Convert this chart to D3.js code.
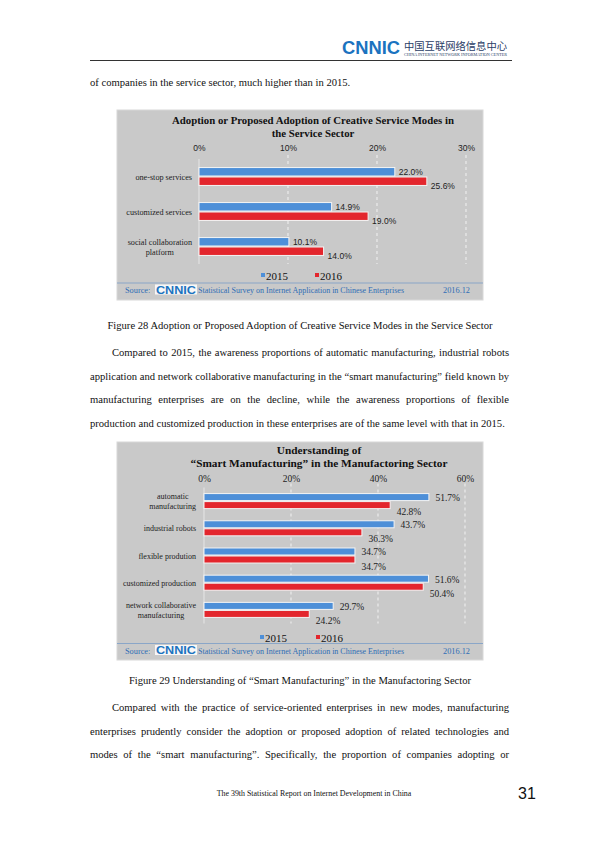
<!DOCTYPE html>
<html><head><meta charset="utf-8">
<script src="https://cdn.jsdelivr.net/npm/d3@7/dist/d3.min.js"></script>
<style>body{margin:0;background:#fff;}svg{display:block;}</style>
</head><body>
<svg id="page" width="600" height="848"></svg>
<script>
// ---------- DATA ----------
const seriesNames = ["2015", "2016"];
const chart1Title = ["Adoption or Proposed Adoption of Creative Service Modes in", "the Service Sector"];
const chart1Categories = ["one-stop services", "customized services", "social collaboration\nplatform"];
const chart1Values2015 = [22.0, 14.9, 10.1];
const chart1Values2016 = [25.6, 19.0, 14.0];
const chart1Ticks = [0, 10, 20, 30];

const chart2Title = ["Understanding of", "“Smart Manufacturing” in the Manufactoring Sector"];
const chart2Categories = ["automatic\nmanufacturing", "industrial robots", "flexible prodution", "customized production", "network collaborative\nmanufacturing"];
const chart2Values2015 = [51.7, 43.7, 34.7, 51.6, 29.7];
const chart2Values2016 = [42.8, 36.3, 34.7, 50.4, 24.2];
const chart2Ticks = [0, 20, 40, 60];

const sourceText = ["Source:", "Statistical Survey on Internet Application in Chinese Enterprises", "2016.12"];

const introLine = "of companies in the service sector, much higher than in 2015.";
const caption28 = "Figure 28 Adoption or Proposed Adoption of Creative Service Modes in the Service Sector";
const para1 = [
  "Compared to 2015, the awareness proportions of automatic manufacturing, industrial robots",
  "application and network collaborative manufacturing in the “smart manufacturing” field known by",
  "manufacturing enterprises are on the decline, while the awareness proportions of flexible",
  "production and customized production in these enterprises are of the same level with that in 2015."
];
const caption29 = "Figure 29 Understanding of “Smart Manufacturing” in the Manufactoring Sector";
const para2 = [
  "Compared with the practice of service-oriented enterprises in new modes, manufacturing",
  "enterprises prudently consider the adoption or proposed adoption of related technologies and",
  "modes of the “smart manufacturing”. Specifically, the proportion of companies adopting or"
];
const footerText = "The 39th Statistical Report on Internet Development in China";
const pageNumber = "31";

// ---------- STYLE ----------
const SERIF = "'Liberation Serif','Times New Roman',serif";
const SANS = "'Liberation Sans',Arial,sans-serif";
const BLUE = "#4d8fd8", RED = "#e3262d", BG = "#c9c9c9", SRC = "#2f6db5";
const BODY = 10.6;

const svg = d3.select("#page");

// ---------- HEADER ----------
svg.append("text").attr("x", 342).attr("y", 54).attr("font-family", SANS).attr("font-weight", "bold")
  .attr("font-size", 19).attr("fill", "#1b73bf").attr("textLength", 58).attr("lengthAdjust", "spacingAndGlyphs").text("CNNIC");
svg.append("text").attr("x", 404).attr("y", 50).attr("font-family", "'Noto Sans CJK SC'").attr("font-size", 10.5)
  .attr("fill", "#2a3d66").attr("textLength", 103).attr("lengthAdjust", "spacingAndGlyphs").text("中国互联网络信息中心");
svg.append("text").attr("x", 404).attr("y", 56).attr("font-family", SERIF).attr("font-size", 3.6)
  .attr("fill", "#2a3d66").attr("textLength", 103).attr("lengthAdjust", "spacingAndGlyphs").text("CHINA INTERNET NETWORK INFORMATION CENTER");
svg.append("line").attr("x1", 90).attr("x2", 512).attr("y1", 60.5).attr("y2", 60.5).attr("stroke", "#333").attr("stroke-width", 1.2);

// ---------- BODY TEXT ----------
function plain(str, x, y, anchor, size, font) {
  return svg.append("text").attr("x", x).attr("y", y).attr("text-anchor", anchor || "start")
    .attr("font-family", font || SERIF).attr("font-size", size || BODY).attr("fill", "#111").text(str);
}
function justified(str, x0, x1, y, size) {
  const words = str.split(" ");
  const t = svg.append("text").attr("y", y).attr("font-family", SERIF).attr("font-size", size).attr("fill", "#111");
  const spans = words.map(w => t.append("tspan").text(w));
  const widths = spans.map(s => s.node().getComputedTextLength());
  const total = d3.sum(widths);
  const gap = (x1 - x0 - total) / (words.length - 1);
  let x = x0;
  spans.forEach((s, i) => { s.attr("x", x); x += widths[i] + gap; });
}
plain(introLine, 90, 86);
plain(caption28, 300, 329, "middle");
const p1y = [356, 380, 403, 427];
para1.forEach((l, i) => {
  if (i === para1.length - 1) plain(l, 90, p1y[i]);
  else justified(l, i === 0 ? 112 : 90, 509, p1y[i], BODY);
});
plain(caption29, 300, 684, "middle");
const p2y = [711, 735, 758];
para2.forEach((l, i) => justified(l, i === 0 ? 112 : 90, 509, p2y[i], BODY));
plain(footerText, 314, 796, "middle", 7.9);
plain(pageNumber, 527, 799, "middle", 16, SANS);

// ---------- CHART ----------
function drawChart(cfg) {
  const g = svg.append("g");
  g.append("rect").attr("x", cfg.box[0]).attr("y", cfg.box[1]).attr("width", cfg.box[2] - cfg.box[0])
    .attr("height", cfg.box[3] - cfg.box[1]).attr("fill", BG).attr("stroke", "#d8d8d8");
  // title
  cfg.title.forEach((t, i) => {
    g.append("text").attr("x", cfg.titleX).attr("y", cfg.titleY + i * cfg.titleLH).attr("text-anchor", "middle")
      .attr("font-family", SERIF).attr("font-weight", "bold").attr("font-size", cfg.titleSize).attr("fill", "#111").text(t);
  });
  const x = d3.scaleLinear().domain([0, cfg.ticks[cfg.ticks.length - 1]]).range(cfg.xRange);
  const y = d3.scaleBand().domain(cfg.categories).range(cfg.yRange).paddingInner(cfg.padIn).paddingOuter(cfg.padIn / 2);
  const ys = d3.scaleBand().domain(seriesNames).range([0, y.bandwidth()]);
  // gridlines
  g.selectAll(".grid").data(cfg.ticks.filter(d => d > 0)).join("line")
    .attr("x1", d => x(d)).attr("x2", d => x(d)).attr("y1", cfg.yRange[0] - 4).attr("y2", cfg.yRange[1])
    .attr("stroke", "#f2f2f2").attr("stroke-dasharray", "3,3").attr("stroke-width", 1);
  g.append("line").attr("x1", x(0)).attr("x2", x(0)).attr("y1", cfg.yRange[0]).attr("y2", cfg.yRange[1])
    .attr("stroke", "#e6e6e6").attr("stroke-width", 1);
  // axis labels
  const ax = g.append("g").attr("transform", `translate(0,${cfg.yRange[0]})`)
    .call(d3.axisTop(x).tickValues(cfg.ticks).tickSize(0).tickPadding(cfg.tickPad).tickFormat(d => d + "%"));
  ax.select(".domain").remove();
  ax.selectAll("text").attr("font-family", cfg.tickFont).attr("font-size", cfg.tickSize).attr("fill", "#222");
  // bars
  const rows = cfg.categories.map((c, i) => ({ c, vals: [cfg.v2015[i], cfg.v2016[i]] }));
  const grp = g.selectAll(".grp").data(rows).join("g").attr("transform", d => `translate(0,${y(d.c)})`);
  grp.selectAll("rect").data(d => d.vals.map((v, j) => ({ v, s: seriesNames[j] }))).join("rect")
    .attr("x", x(0)).attr("y", d => ys(d.s) + 0.5).attr("height", ys.bandwidth() - 1)
    .attr("width", d => x(d.v) - x(0)).attr("fill", d => d.s === "2015" ? BLUE : RED)
    .attr("stroke", "#f4f4f4").attr("stroke-width", 1);
  grp.selectAll(".lbl").data(d => d.vals.map((v, j) => ({ v, s: seriesNames[j] }))).join("text")
    .attr("x", d => x(d.v) + cfg.lblDx)
    .attr("y", d => ys(d.s) + ys.bandwidth() / 2 + (d.s === "2016" ? cfg.lblDy2 : cfg.lblDy1))
    .attr("font-family", cfg.lblFont).attr("font-size", cfg.lblSize).attr("fill", "#222")
    .text(d => d.v.toFixed(1) + "%");
  // category labels
  rows.forEach(r => {
    const lines = r.c.split("\n");
    const t = g.append("text").attr("font-family", SERIF).attr("font-size", cfg.catSize).attr("fill", "#222").attr("text-anchor", "middle");
    const spans = lines.map((l, k) => t.append("tspan").text(l));
    const maxW = d3.max(spans.map(s => s.node().getComputedTextLength()));
    const cx = cfg.catRight - maxW / 2;
    const yc = y(r.c) + y.bandwidth() / 2;
    spans.forEach((s, k) => s.attr("x", cx).attr("y", yc + (k - (lines.length - 1) / 2) * cfg.catLH + 3));
  });
  // legend
  seriesNames.forEach((s, i) => {
    const lx = cfg.legendX[i];
    g.append("rect").attr("x", lx).attr("y", cfg.legendY - 3).attr("width", 4).attr("height", 4).attr("fill", i ? RED : BLUE);
    g.append("text").attr("x", lx + 5).attr("y", cfg.legendY + 3.5).attr("font-family", SERIF).attr("font-size", 11).attr("fill", "#111").text(s);
  });
  // source bar
  g.append("line").attr("x1", cfg.box[0]).attr("x2", cfg.box[2]).attr("y1", cfg.srcLine).attr("y2", cfg.srcLine)
    .attr("stroke", "#8aa6c8").attr("stroke-width", 1.2);
  const sy = cfg.srcLine + 10;
  g.append("text").attr("x", 125).attr("y", sy).attr("font-family", SERIF).attr("font-size", 8.3).attr("fill", SRC).text(sourceText[0]);
  g.append("rect").attr("x", 155).attr("y", sy - 8.5).attr("width", 42).attr("height", 10).attr("fill", "#f7f7f7");
  g.append("text").attr("x", 156).attr("y", sy + 0.5).attr("font-family", SANS).attr("font-weight", "bold").attr("font-size", 11)
    .attr("fill", "#1b73bf").attr("textLength", 40).attr("lengthAdjust", "spacingAndGlyphs").text("CNNIC");
  g.append("text").attr("x", 198).attr("y", sy).attr("font-family", SERIF).attr("font-size", 8.3).attr("fill", SRC)
    .attr("textLength", 206).attr("lengthAdjust", "spacingAndGlyphs").text(sourceText[1]);
  g.append("text").attr("x", 470).attr("y", sy).attr("text-anchor", "end").attr("font-family", SERIF).attr("font-size", 8.3).attr("fill", SRC).text(sourceText[2]);
}

drawChart({
  box: [117, 110, 483, 300], title: chart1Title, titleX: 313, titleY: 124, titleLH: 12.5, titleSize: 10.8,
  categories: chart1Categories, v2015: chart1Values2015, v2016: chart1Values2016, ticks: chart1Ticks,
  xRange: [199, 466], yRange: [159, 264], padIn: 0.46, tickPad: 8, tickFont: SANS, tickSize: 8.5,
  lblDx: 4, lblDy1: 3, lblDy2: 7.5, lblFont: SANS, lblSize: 8.5, catSize: 8.2, catRight: 192, catLH: 10,
  legendX: [261, 315], legendY: 276, srcLine: 283
});
drawChart({
  box: [117, 442, 483, 660], title: chart2Title, titleX: 319, titleY: 454, titleLH: 13, titleSize: 11.3,
  categories: chart2Categories, v2015: chart2Values2015, v2016: chart2Values2016, ticks: chart2Ticks,
  xRange: [204, 465], yRange: [487.5, 623.5], padIn: 0.41, tickPad: 6, tickFont: SERIF, tickSize: 9.5,
  lblDx: 6.5, lblDy1: 4, lblDy2: 10, lblFont: SERIF, lblSize: 9.5, catSize: 8, catRight: 196, catLH: 10,
  legendX: [260, 316], legendY: 638, srcLine: 643.5
});
</script>
</body></html>
